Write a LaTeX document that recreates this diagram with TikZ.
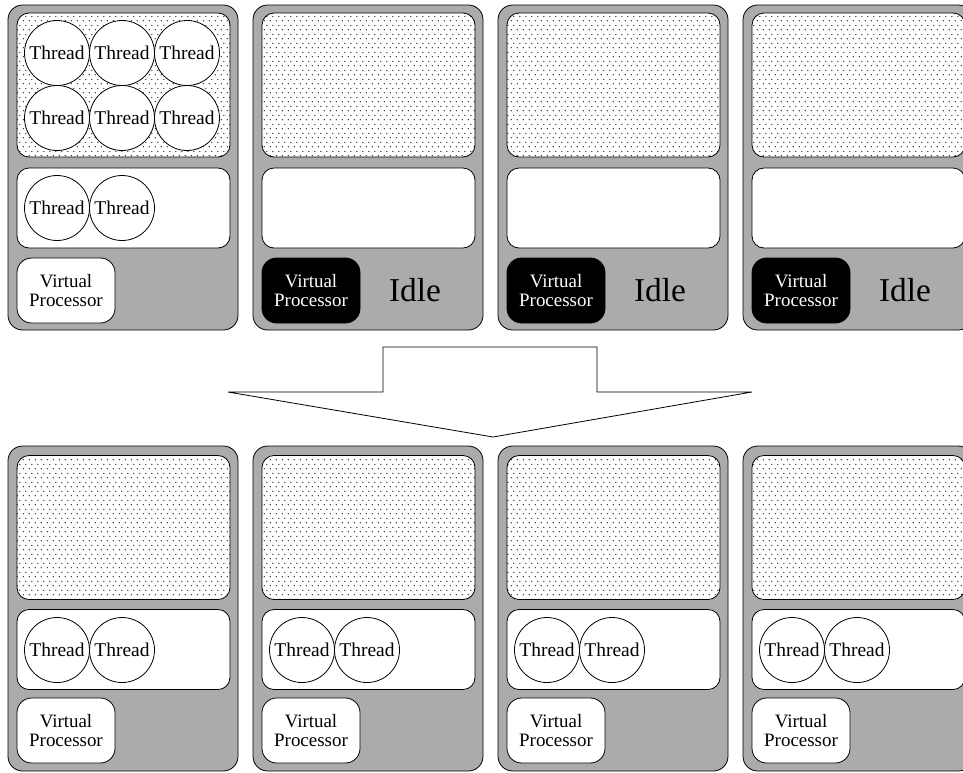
\documentclass[tikz,border=0pt]{standalone}
\usepackage{fontspec}
\setmainfont{Liberation Serif}
\usetikzlibrary{patterns}

% light staggered dot texture for the thread pools
\pgfdeclarepatternformonly{sparsedots}{\pgfqpoint{0pt}{0pt}}{\pgfqpoint{4.2pt}{7pt}}{\pgfqpoint{4.2pt}{7pt}}{%
  \pgfpathcircle{\pgfqpoint{1pt}{1pt}}{0.5pt}%
  \pgfpathcircle{\pgfqpoint{3.1pt}{4.5pt}}{0.5pt}%
  \pgfusepath{fill}}

\tikzset{
  panel/.style={draw, line width=0.6pt, fill=black!33, rounded corners=11pt,
    minimum width=172.5pt, minimum height=243.75pt, inner sep=0pt},
  pool/.style={draw, line width=0.6pt, rounded corners=9pt,
    preaction={fill=white}, pattern=sparsedots, pattern color=black,
    minimum width=159.75pt, minimum height=108pt, inner sep=0pt},
  queue/.style={draw, line width=0.6pt, fill=white, rounded corners=9pt,
    minimum width=159.75pt, minimum height=60pt, inner sep=0pt},
  vp/.style={draw, line width=0.6pt, fill=white, rounded corners=11pt,
    minimum width=73.5pt, minimum height=48.75pt, inner sep=0pt, align=center,
    font=\fontsize{14.2}{14.6}\selectfont},
  vpidle/.style={vp, fill=black, text=white},
  thread/.style={draw, line width=0.6pt, fill=white, circle, minimum size=48.75pt,
    inner sep=0pt, font=\fontsize{14.6}{15}\selectfont},
  idle/.style={font=\fontsize{25}{25}\selectfont, inner sep=0pt},
  bigarrow/.style={draw, line width=0.6pt, fill=white, line join=miter}
}

\begin{document}
\begin{tikzpicture}[x=0.75pt, y=-0.75pt]
\clip (0,0) rectangle (963,772);
\fill[white] (0,0) rectangle (963,772);

% ---- upper row: before the move ----
\foreach \i in {1,...,4} {
  \pgfmathsetmacro{\xo}{8+245*(\i-1)}
  \node[panel] (T\i) at (\xo+115, 167.5) {};
  \node[pool]  (T\i pool)  at (\xo+115.5, 85) {};
  \node[queue] (T\i queue) at (\xo+115.5, 208) {};
}
\node[vp] (T1vp) at (66, 290.5) {Virtual\\Processor};
\foreach \i in {2,3,4} {
  \pgfmathsetmacro{\xo}{8+245*(\i-1)}
  \node[vpidle] (T\i vp) at (\xo+58, 290.5) {Virtual\\Processor};
  \node[idle] (T\i idle) at (\xo+162, 290) {Idle};
}

% threads of the busy processor
\foreach \c [count=\k] in {57,122,187} {
  \node[thread] (ta\k) at (\c, 53) {Thread};
  \node[thread] (tb\k) at (\c, 118) {Thread};
}
\node[thread] (tq1) at (57, 208) {Thread};
\node[thread] (tq2) at (122, 208) {Thread};

% ---- arrow between the rows ----
\path[bigarrow] (228,392) -- (383,392) -- (383,347) -- (597,347)
  -- (597,392) -- (752,392) -- (493,437) -- cycle;

% ---- lower row: after the move ----
\foreach \i in {1,...,4} {
  \pgfmathsetmacro{\xo}{8+245*(\i-1)}
  \node[panel] (B\i) at (\xo+115, 608.5) {};
  \node[pool]  (B\i pool)  at (\xo+115.5, 527.5) {};
  \node[queue] (B\i queue) at (\xo+115.5, 649.5) {};
  \node[vp]    (B\i vp)    at (\xo+58, 730.5) {Virtual\\Processor};
  \node[thread] (B\i t1) at (\xo+49, 650) {Thread};
  \node[thread] (B\i t2) at (\xo+114, 650) {Thread};
}
\end{tikzpicture}
\end{document}
